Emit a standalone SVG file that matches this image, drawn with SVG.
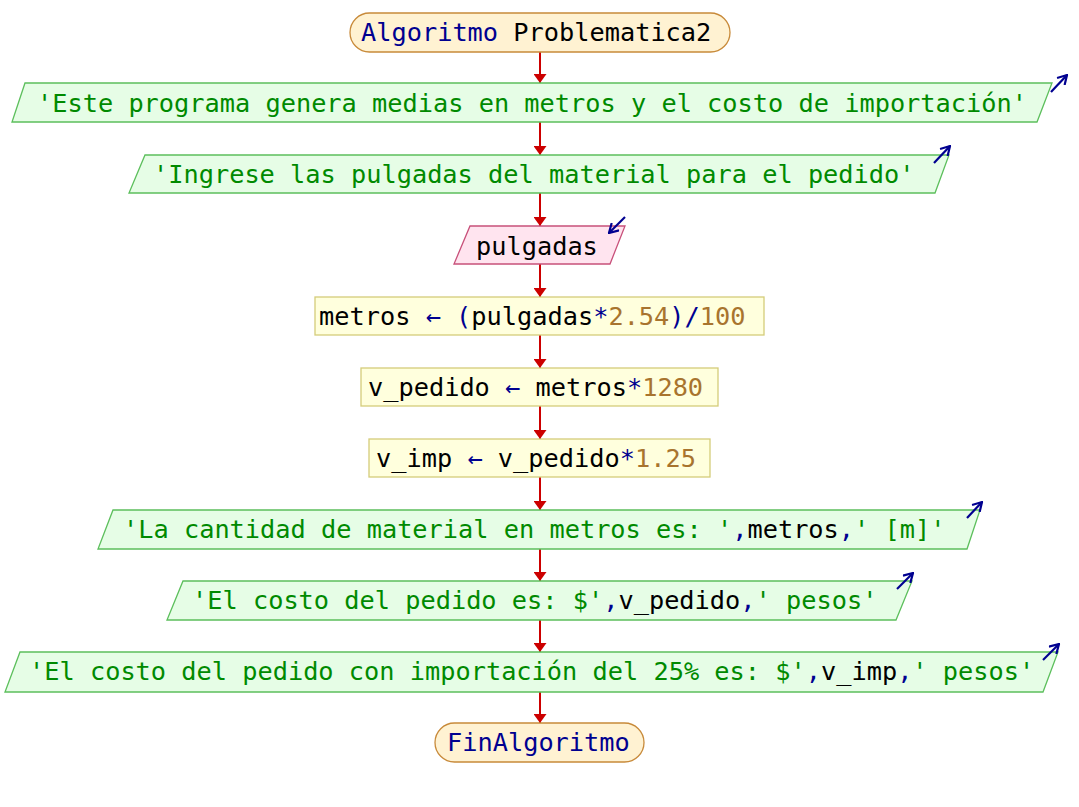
<svg xmlns="http://www.w3.org/2000/svg" width="1079" height="807" viewBox="0 0 1079 807">
<style>
text{font-family:"DejaVu Sans Mono","Liberation Mono",monospace;font-size:25.3px;fill:#000}
.kw{fill:#000090}
.str{fill:#008a00}
.num{fill:#a8742e}
.op{fill:#000090}
.term{fill:#fff2d2;stroke:#c88a3a;stroke-width:1.3}
.out{fill:#e6fde6;stroke:#5cbf5c;stroke-width:1.3}
.inp{fill:#ffe4ef;stroke:#c8507a;stroke-width:1.3}
.proc{fill:#ffffdd;stroke:#d4cc7a;stroke-width:1.3}
.flow{stroke:#cc0000;stroke-width:2;fill:none;marker-end:url(#ah)}
.io{stroke:#000090;stroke-width:2.2;fill:none;marker-end:url(#bh)}
</style>
<defs>
<marker id="ah" viewBox="0 0 9 13" refX="9" refY="6.5" markerWidth="9" markerHeight="13" markerUnits="userSpaceOnUse" orient="auto">
<path d="M0,0 L9,6.5 L0,13 z" fill="#cc0000"/>
</marker>
<marker id="bh" viewBox="0 0 12 12" refX="11" refY="6" markerWidth="12" markerHeight="12" markerUnits="userSpaceOnUse" orient="auto">
<path d="M2,0.8 L11,6 L2,11.2" fill="none" stroke="#000090" stroke-width="2.2"/>
</marker>
</defs>
<rect width="1079" height="807" fill="#fff"/>
<g id="connectors">
<line class="flow" x1="540" y1="52" x2="540" y2="83"/>
<line class="flow" x1="540" y1="122" x2="540" y2="155"/>
<line class="flow" x1="540" y1="193" x2="540" y2="226"/>
<line class="flow" x1="540" y1="264" x2="540" y2="297"/>
<line class="flow" x1="540" y1="335" x2="540" y2="368"/>
<line class="flow" x1="540" y1="406" x2="540" y2="439"/>
<line class="flow" x1="540" y1="477" x2="540" y2="510"/>
<line class="flow" x1="540" y1="549" x2="540" y2="581"/>
<line class="flow" x1="540" y1="620" x2="540" y2="652"/>
<line class="flow" x1="540" y1="692" x2="540" y2="723"/>
</g>
<g id="start">
<rect class="term" x="350" y="13" width="380" height="39" rx="19.5"/>
<text x="361" y="41"><tspan class="kw">Algoritmo</tspan> Problematica2</text>
</g>
<g id="out1">
<polygon class="out" points="25,83 1052,83 1037,122 12,122"/>
<line class="io" x1="1051" y1="92" x2="1067" y2="75"/>
<text x="37" y="112" class="str">'Este programa genera medias en metros y el costo de importación'</text>
</g>
<g id="out2">
<polygon class="out" points="145,155 949,155 935,193 129,193"/>
<line class="io" x1="934" y1="163" x2="950" y2="146"/>
<text x="153" y="183" class="str">'Ingrese las pulgadas del material para el pedido'</text>
</g>
<g id="in1">
<polygon class="inp" points="470,226 625,226 610,264 454,264"/>
<line class="io" x1="625" y1="217" x2="609" y2="233"/>
<text x="476" y="255">pulgadas</text>
</g>
<g id="proc1">
<rect class="proc" x="315" y="297" width="449" height="38"/>
<text x="319" y="325">metros <tspan class="op">←</tspan> <tspan class="op">(</tspan>pulgadas<tspan class="op">*</tspan><tspan class="num">2.54</tspan><tspan class="op">)/</tspan><tspan class="num">100</tspan></text>
</g>
<g id="proc2">
<rect class="proc" x="361" y="368" width="357" height="38"/>
<text x="368" y="396">v_pedido <tspan class="op">←</tspan> metros<tspan class="op">*</tspan><tspan class="num">1280</tspan></text>
</g>
<g id="proc3">
<rect class="proc" x="369" y="439" width="341" height="38"/>
<text x="376" y="467">v_imp <tspan class="op">←</tspan> v_pedido<tspan class="op">*</tspan><tspan class="num">1.25</tspan></text>
</g>
<g id="out3">
<polygon class="out" points="113,510 980,510 967,549 98,549"/>
<line class="io" x1="967" y1="518" x2="982" y2="502"/>
<text x="123" y="538"><tspan class="str">'La cantidad de material en metros es: '</tspan><tspan class="op">,</tspan>metros<tspan class="op">,</tspan><tspan class="str">' [m]'</tspan></text>
</g>
<g id="out4">
<polygon class="out" points="183,581 912,581 896,620 167,620"/>
<line class="io" x1="897" y1="589" x2="913" y2="573"/>
<text x="192" y="609"><tspan class="str">'El costo del pedido es: $'</tspan><tspan class="op">,</tspan>v_pedido<tspan class="op">,</tspan><tspan class="str">' pesos'</tspan></text>
</g>
<g id="out5">
<polygon class="out" points="20,652 1058,652 1043,692 5,692"/>
<line class="io" x1="1043" y1="660" x2="1059" y2="644"/>
<text x="29" y="680"><tspan class="str">'El costo del pedido con importación del 25% es: $'</tspan><tspan class="op">,</tspan>v_imp<tspan class="op">,</tspan><tspan class="str">' pesos'</tspan></text>
</g>
<g id="end">
<rect class="term" x="435" y="723" width="209" height="39" rx="19.5"/>
<text x="447" y="751" class="kw">FinAlgoritmo</text>
</g>
</svg>
